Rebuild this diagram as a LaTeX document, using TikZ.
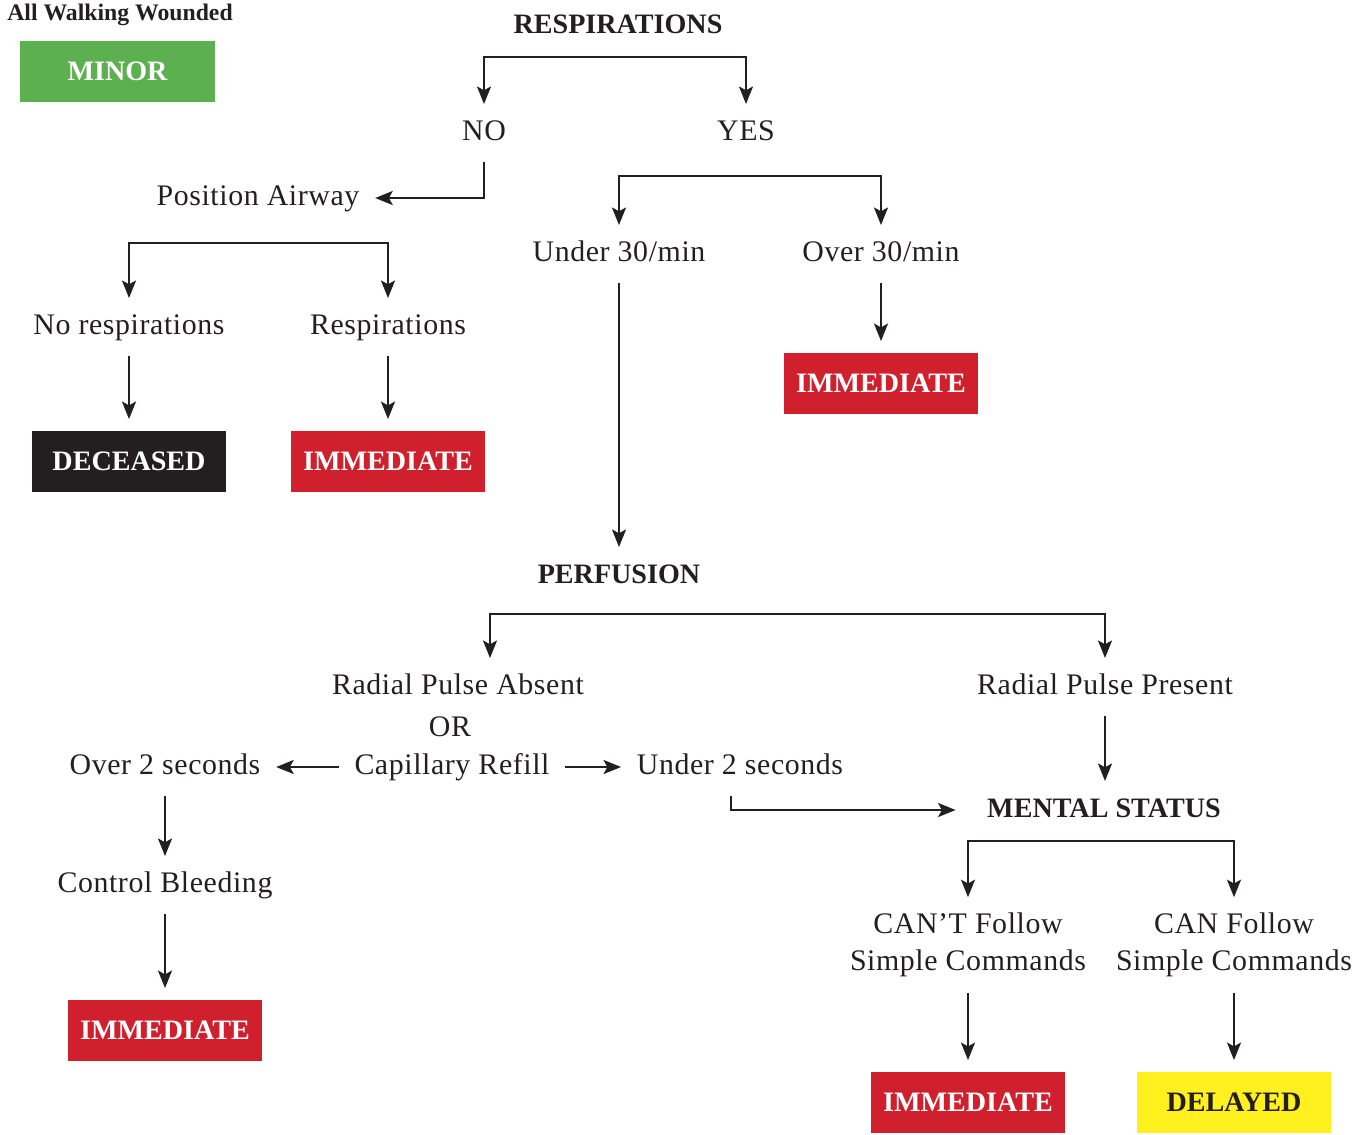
\documentclass[tikz,border=0pt]{standalone}
\usepackage{fontspec}
\setmainfont{Liberation Serif}
\newfontfamily\lblfont{Liberation Serif}[LetterSpace=2]
\usetikzlibrary{arrows.meta,calc}

\definecolor{ink}{RGB}{35,31,32}
\definecolor{minorgreen}{RGB}{92,176,79}
\definecolor{immred}{RGB}{208,32,46}
\definecolor{delyellow}{RGB}{255,240,30}

\tikzset{
  lbl/.style={font=\lblfont\fontsize{17}{21}\selectfont, text=ink, inner sep=2pt,
    outer sep=7pt, text height=11.5pt, text depth=3.5pt},
  hdr/.style={lbl, font=\fontsize{16}{21}\selectfont\bfseries},
  twoline/.style={font=\lblfont\fontsize{17}{21}\selectfont, text=ink, align=center,
    inner sep=2pt, outer sep=7pt},
  catbox/.style={minimum width=3.9cm, minimum height=1.22cm, inner sep=0pt,
    outer sep=6.5pt, font=\fontsize{16}{19}\selectfont\bfseries, text=white},
  arr/.style={-{Stealth[length=10pt,width=8pt,inset=2.2pt]}, line width=1.1pt, draw=ink},
  twoarr/.style={{Stealth[length=10pt,width=8pt,inset=2.2pt]}-{Stealth[length=10pt,width=8pt,inset=2.2pt]},
    line width=1.1pt, draw=ink}
}

\begin{document}
\begin{tikzpicture}[x=0.02cm, y=-0.02cm]
  \useasboundingbox (0,0) rectangle (1357,1134);

  % walking wounded
  \node[text=ink, font=\fontsize{13.5}{16}\selectfont\bfseries] (walk) at (120,15) {All Walking Wounded};
  \node[catbox, fill=minorgreen] (minor) at (117.5,71.5) {MINOR};

  % respirations
  \node[hdr] (resp) at (618,26) {RESPIRATIONS};
  \node[lbl] (no) at (484,133) {NO};
  \node[lbl] (yes) at (746,133) {YES};
  \coordinate (rbar) at (618,57);
  \draw[twoarr] (no.north) |- (rbar) -| (yes.north);

  % no breathing: position the airway
  \node[lbl] (pa) at (258,198) {Position Airway};
  \draw[arr] (no.south) |- (pa.east);

  \node[lbl] (norsp) at (129,327) {No respirations};
  \node[lbl] (rsp) at (388,327) {Respirations};
  \coordinate (pbar) at (257,243);
  \draw[twoarr] (norsp.north) |- (pbar) -| (rsp.north);

  \node[catbox, fill=ink] (dead) at (129,461) {DECEASED};
  \node[catbox, fill=immred] (immA) at (388,461) {IMMEDIATE};
  \draw[arr] (norsp) -- (dead);
  \draw[arr] (rsp) -- (immA);

  % breathing: rate
  \node[lbl] (under) at (619,254) {Under 30/min};
  \node[lbl] (over) at (881,254) {Over 30/min};
  \coordinate (ybar) at (749,176);
  \draw[twoarr] (under.north) |- (ybar) -| (over.north);

  \node[catbox, fill=immred] (immB) at (881,383) {IMMEDIATE};
  \draw[arr] (over) -- (immB);

  % perfusion
  \node[hdr] (perf) at (619,576) {PERFUSION};
  \draw[arr] (under) -- (perf);

  \node[lbl] (rpa) at (458,687) {Radial Pulse Absent};
  \node[lbl] (orr) at (450,729) {OR};
  \node[lbl] (cr) at (452,767) {Capillary Refill};
  \node[lbl] (rpp) at (1105,687) {Radial Pulse Present};
  \coordinate (fbar) at (796,614);
  \draw[twoarr] ($(rpa.north)+(32,0)$) |- (fbar) -| (rpp.north);

  \node[lbl] (o2) at (165,767) {Over 2 seconds};
  \node[lbl] (u2) at (740,767) {Under 2 seconds};
  \draw[arr] (cr) -- (o2);
  \draw[arr] (cr) -- (u2);

  \node[lbl] (cb) at (165,885) {Control Bleeding};
  \node[catbox, fill=immred] (immC) at (165,1030) {IMMEDIATE};
  \draw[arr] (o2) -- (cb);
  \draw[arr] (cb) -- (immC);

  % mental status
  \node[hdr, outer xsep=16pt] (ms) at (1104,810) {MENTAL STATUS};
  \draw[arr] (rpp) -- (rpp |- ms.north);
  \draw[arr] ($(u2.south)+(-9,0)$) |- (ms.west);

  \node[twoline] (cant) at (968,945) {CAN’T Follow\\Simple Commands};
  \node[twoline] (can) at (1234,945) {CAN Follow\\Simple Commands};
  \coordinate (mbar) at (1101,841);
  \draw[twoarr] (cant.north) |- (mbar) -| (can.north);

  \node[catbox, fill=immred] (immD) at (968,1102) {IMMEDIATE};
  \node[catbox, fill=delyellow, text=ink] (del) at (1234,1102) {DELAYED};
  \draw[arr] (cant) -- (immD);
  \draw[arr] (can) -- (del);

\end{tikzpicture}
\end{document}
